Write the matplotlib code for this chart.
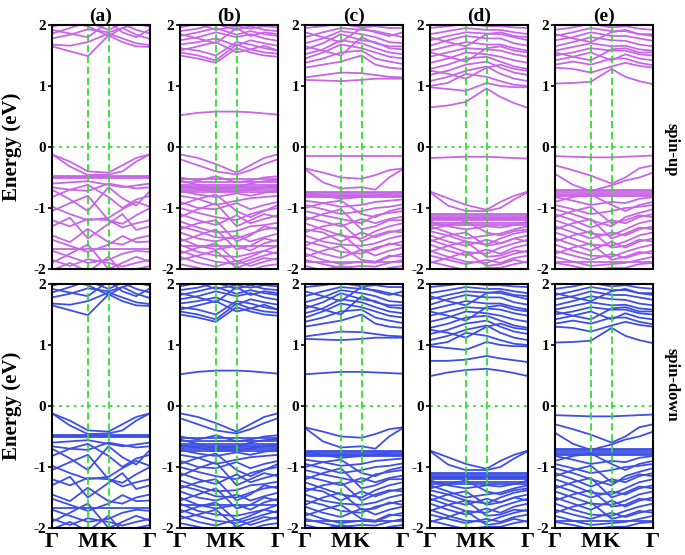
import matplotlib
matplotlib.use('Agg')
import matplotlib.pyplot as plt

plt.rcParams['font.family'] = ['Liberation Serif', 'DejaVu Serif']
plt.rcParams['font.weight'] = 'bold'

# k-path nodes: G, mid G-M, M, K, 1/3 K-G, 2/3 K-G, G
kpts = [0.0, 0.183, 0.366, 0.577, 0.718, 0.859, 1.0]
klabels = ['Γ', 'M', 'K', 'Γ']
kticks = [0.0, 0.366, 0.577, 1.0]
titles = ['(a)', '(b)', '(c)', '(d)', '(e)']

# ---- panel (a)
cb_a = [
    [1.65, 1.57, 1.49, 1.83, 1.72, 1.65, 1.64],
    [1.68, 1.66, 1.72, 1.86, 1.78, 1.70, 1.67],
    [1.78, 1.84, 1.93, 1.88, 1.95, 1.84, 1.77],
    [1.86, 1.95, 2.05, 1.92, 2.02, 1.92, 1.86],
    [1.92, 1.86, 1.80, 2.05, 1.88, 1.80, 1.93],
    [1.97, 2.05, 1.98, 1.82, 1.95, 2.02, 1.97],
]
vb_a = [
    [-0.12, -0.24, -0.40, -0.42, -0.30, -0.18, -0.12],
    [-0.12, -0.32, -0.46, -0.45, -0.40, -0.24, -0.12],
    [-0.60, -0.58, -0.56, -0.62, -0.66, -0.63, -0.60],
    [-0.66, -0.70, -0.72, -0.60, -0.64, -0.68, -0.66],
    [-0.70, -0.86, -1.05, -0.66, -0.84, -0.96, -0.72],
    [-0.82, -0.70, -0.62, -0.82, -1.00, -0.86, -0.80],
    [-0.98, -1.10, -1.20, -1.16, -1.02, -0.90, -0.98],
    [-1.05, -0.92, -0.80, -1.20, -1.26, -1.12, -1.00],
    [-1.20, -1.30, -1.18, -1.20, -1.32, -1.25, -1.20],
    [-1.30, -1.16, -1.50, -1.26, -1.10, -1.36, -1.30],
    [-1.45, -1.56, -1.34, -1.56, -1.60, -1.50, -1.45],
    [-1.52, -1.62, -1.72, -1.60, -1.46, -1.56, -1.55],
    [-1.70, -1.80, -1.90, -1.85, -1.75, -1.70, -1.72],
    [-1.85, -1.95, -1.84, -1.90, -1.96, -1.90, -1.85],
    [-1.90, -1.75, -1.60, -2.00, -1.90, -1.80, -1.88],
    [-2.02, -1.90, -2.05, -1.80, -2.05, -2.00, -1.95],
]
flat_a = [-0.47, -0.49, -0.51, -1.68]
gap_a_up = []
gap_a_dn = []

# ---- panel (b)
cb_b = [
    [1.50, 1.45, 1.38, 1.62, 1.55, 1.50, 1.48],
    [1.55, 1.50, 1.42, 1.68, 1.60, 1.55, 1.53],
    [1.62, 1.58, 1.50, 1.72, 1.68, 1.62, 1.58],
    [1.68, 1.72, 1.78, 1.66, 1.75, 1.70, 1.66],
    [1.75, 1.80, 1.88, 1.80, 1.85, 1.78, 1.74],
    [1.82, 1.88, 1.95, 1.84, 1.90, 1.85, 1.82],
    [1.90, 1.94, 2.02, 1.92, 1.98, 1.92, 1.90],
    [1.96, 2.02, 1.92, 1.98, 1.94, 1.98, 1.96],
    [1.58, 1.65, 1.72, 1.55, 1.60, 1.66, 1.58],
    [1.85, 1.78, 1.70, 1.95, 1.82, 1.88, 1.85],
]
vb_b = [
    [-0.12, -0.18, -0.28, -0.42, -0.30, -0.18, -0.12],
    [-0.20, -0.30, -0.40, -0.45, -0.38, -0.28, -0.20],
    [-0.50, -0.55, -0.48, -0.58, -0.55, -0.50, -0.48],
    [-0.55, -0.62, -0.70, -0.66, -0.60, -0.56, -0.54],
    [-0.64, -0.68, -0.74, -0.72, -0.70, -0.66, -0.62],
    [-0.72, -0.78, -0.82, -0.76, -0.80, -0.75, -0.72],
    [-0.80, -0.85, -0.95, -0.88, -0.84, -0.82, -0.80],
    [-0.90, -1.00, -1.02, -0.92, -1.02, -0.95, -0.90],
    [-1.00, -1.08, -1.15, -1.20, -1.10, -1.04, -1.00],
    [-1.10, -1.20, -1.28, -1.12, -1.25, -1.18, -1.12],
    [-1.22, -1.32, -1.40, -1.38, -1.30, -1.28, -1.24],
    [-1.30, -1.38, -1.48, -1.50, -1.42, -1.35, -1.32],
    [-1.40, -1.50, -1.55, -1.45, -1.55, -1.48, -1.42],
    [-1.50, -1.62, -1.68, -1.62, -1.70, -1.58, -1.52],
    [-1.60, -1.72, -1.78, -1.80, -1.75, -1.70, -1.62],
    [-1.70, -1.80, -1.88, -1.92, -1.85, -1.78, -1.72],
    [-1.80, -1.90, -1.96, -1.86, -1.95, -1.88, -1.82],
    [-1.92, -1.98, -2.05, -1.98, -2.02, -1.95, -1.92],
    [-0.95, -0.85, -0.78, -1.05, -1.15, -1.05, -0.95],
    [-1.15, -1.02, -0.92, -1.30, -1.20, -1.10, -1.15],
    [-1.35, -1.25, -1.20, -1.55, -1.45, -1.30, -1.35],
    [-1.55, -1.45, -1.35, -1.68, -1.62, -1.50, -1.55],
    [-1.75, -1.65, -1.58, -1.88, -1.80, -1.70, -1.75],
    [-1.85, -1.78, -1.70, -1.98, -1.90, -1.82, -1.85],
]
flat_b = [-0.52, -0.58, -0.62, -0.65, -0.68, -0.70, -0.73, -1.62]
gap_b_up = [[0.52, 0.56, 0.58, 0.58, 0.57, 0.55, 0.53]]
gap_b_dn = [[0.52, 0.56, 0.58, 0.58, 0.57, 0.55, 0.53]]

# ---- panel (c)
cb_c = [
    [1.10, 1.09, 1.08, 1.10, 1.12, 1.12, 1.12],
    [1.14, 1.18, 1.22, 1.21, 1.18, 1.15, 1.14],
    [1.30, 1.35, 1.40, 1.50, 1.35, 1.30, 1.28],
    [1.38, 1.45, 1.55, 1.58, 1.45, 1.40, 1.36],
    [1.45, 1.55, 1.68, 1.62, 1.55, 1.48, 1.45],
    [1.52, 1.60, 1.75, 1.70, 1.62, 1.55, 1.52],
    [1.60, 1.70, 1.85, 1.75, 1.72, 1.62, 1.60],
    [1.70, 1.78, 1.90, 1.85, 1.80, 1.72, 1.70],
    [1.80, 1.88, 1.95, 1.92, 1.90, 1.85, 1.80],
    [1.95, 1.98, 2.02, 1.96, 1.98, 1.95, 1.95],
    [1.65, 1.58, 1.50, 1.80, 1.70, 1.65, 1.65],
    [1.88, 1.80, 1.72, 1.95, 1.88, 1.82, 1.88],
]
vb_c = [
    [-0.35, -0.42, -0.50, -0.52, -0.46, -0.38, -0.35],
    [-0.36, -0.58, -0.68, -0.66, -0.70, -0.50, -0.36],
    [-0.74, -0.80, -0.85, -0.82, -0.80, -0.76, -0.74],
    [-0.88, -0.92, -0.98, -0.95, -0.90, -0.88, -0.86],
    [-0.95, -1.02, -1.10, -1.05, -1.00, -0.98, -0.94],
    [-1.05, -1.12, -1.18, -1.25, -1.12, -1.08, -1.05],
    [-1.15, -1.22, -1.30, -1.18, -1.25, -1.18, -1.14],
    [-1.25, -1.35, -1.45, -1.50, -1.38, -1.30, -1.25],
    [-1.35, -1.40, -1.55, -1.40, -1.48, -1.40, -1.35],
    [-1.45, -1.55, -1.60, -1.62, -1.58, -1.50, -1.45],
    [-1.55, -1.62, -1.72, -1.75, -1.65, -1.60, -1.55],
    [-1.65, -1.75, -1.82, -1.68, -1.78, -1.70, -1.65],
    [-1.75, -1.85, -1.92, -1.88, -1.90, -1.80, -1.75],
    [-1.85, -1.92, -1.98, -1.95, -1.96, -1.90, -1.85],
    [-1.95, -2.02, -1.95, -2.02, -2.05, -1.98, -1.95],
    [-1.00, -0.92, -0.88, -1.10, -1.15, -1.05, -1.00],
    [-1.20, -1.10, -1.02, -1.35, -1.30, -1.20, -1.20],
    [-1.40, -1.30, -1.25, -1.55, -1.45, -1.38, -1.40],
    [-1.62, -1.50, -1.42, -1.70, -1.68, -1.58, -1.62],
    [-1.80, -1.70, -1.62, -1.85, -1.88, -1.78, -1.80],
]
flat_c = [-0.74, -0.76, -0.78, -0.80, -0.82, -1.88]
gap_c_up = [[-0.15, -0.15, -0.15, -0.15, -0.15, -0.15, -0.15]]
gap_c_dn = [[0.52, 0.54, 0.56, 0.56, 0.55, 0.54, 0.53]]

# ---- panel (d)
cb_d = [
    [0.98, 0.95, 0.92, 1.05, 1.00, 0.98, 0.98],
    [1.00, 1.05, 1.20, 1.15, 1.08, 1.02, 1.00],
    [1.08, 1.15, 1.25, 1.32, 1.20, 1.12, 1.08],
    [1.18, 1.25, 1.35, 1.40, 1.30, 1.22, 1.18],
    [1.28, 1.35, 1.45, 1.48, 1.40, 1.32, 1.28],
    [1.38, 1.45, 1.55, 1.52, 1.48, 1.42, 1.38],
    [1.48, 1.55, 1.62, 1.60, 1.58, 1.52, 1.48],
    [1.58, 1.65, 1.72, 1.68, 1.68, 1.62, 1.58],
    [1.66, 1.75, 1.82, 1.78, 1.78, 1.70, 1.66],
    [1.75, 1.82, 1.88, 1.86, 1.85, 1.80, 1.75],
    [1.85, 1.90, 1.95, 1.92, 1.92, 1.88, 1.85],
    [1.95, 1.98, 2.02, 1.98, 1.98, 1.96, 1.95],
    [1.25, 1.20, 1.12, 1.30, 1.35, 1.28, 1.25],
    [1.55, 1.48, 1.40, 1.62, 1.65, 1.58, 1.55],
    [1.80, 1.72, 1.65, 1.85, 1.88, 1.82, 1.80],
]
vb_d = [
    [-0.73, -0.84, -0.95, -1.03, -0.90, -0.80, -0.73],
    [-0.74, -0.96, -1.05, -1.05, -1.00, -0.86, -0.74],
    [-1.22, -1.30, -1.35, -1.30, -1.32, -1.28, -1.22],
    [-1.30, -1.40, -1.50, -1.45, -1.42, -1.35, -1.30],
    [-1.38, -1.45, -1.55, -1.60, -1.50, -1.42, -1.38],
    [-1.45, -1.55, -1.62, -1.52, -1.58, -1.50, -1.45],
    [-1.52, -1.62, -1.72, -1.75, -1.65, -1.58, -1.52],
    [-1.60, -1.70, -1.78, -1.68, -1.75, -1.65, -1.60],
    [-1.70, -1.80, -1.88, -1.90, -1.82, -1.75, -1.70],
    [-1.78, -1.85, -1.92, -1.85, -1.90, -1.82, -1.78],
    [-1.88, -1.95, -2.02, -1.98, -1.98, -1.92, -1.88],
    [-1.35, -1.28, -1.22, -1.40, -1.45, -1.38, -1.35],
    [-1.55, -1.45, -1.40, -1.62, -1.58, -1.50, -1.55],
    [-1.72, -1.62, -1.55, -1.80, -1.78, -1.70, -1.72],
    [-1.90, -1.82, -1.72, -1.95, -1.92, -1.85, -1.90],
]
flat_d = [-1.10, -1.12, -1.14, -1.16, -1.18, -1.20, -1.24, -1.28]
gap_d_up = [
    [-0.18, -0.17, -0.16, -0.16, -0.17, -0.18, -0.19],
    [0.65, 0.68, 0.74, 0.96, 0.82, 0.72, 0.64],
]
gap_d_dn = [
    [0.49, 0.55, 0.59, 0.61, 0.58, 0.54, 0.49],
    [0.74, 0.74, 0.76, 0.82, 0.78, 0.75, 0.72],
]

# ---- panel (e)
cb_e = [
    [1.04, 1.05, 1.07, 1.28, 1.15, 1.08, 1.03],
    [1.30, 1.28, 1.22, 1.32, 1.38, 1.33, 1.30],
    [1.35, 1.40, 1.35, 1.45, 1.45, 1.38, 1.34],
    [1.42, 1.48, 1.55, 1.42, 1.52, 1.45, 1.42],
    [1.50, 1.55, 1.62, 1.58, 1.58, 1.52, 1.50],
    [1.58, 1.64, 1.70, 1.65, 1.66, 1.60, 1.58],
    [1.65, 1.72, 1.80, 1.75, 1.74, 1.68, 1.65],
    [1.75, 1.80, 1.88, 1.82, 1.82, 1.78, 1.74],
    [1.82, 1.88, 1.95, 1.90, 1.90, 1.85, 1.82],
    [1.92, 1.96, 2.02, 1.96, 1.98, 1.94, 1.92],
    [1.55, 1.48, 1.42, 1.60, 1.62, 1.55, 1.55],
    [1.85, 1.78, 1.72, 1.88, 1.92, 1.85, 1.85],
]
vb_e = [
    [-0.30, -0.38, -0.47, -0.60, -0.50, -0.35, -0.30],
    [-0.44, -0.62, -0.72, -0.63, -0.55, -0.50, -0.42],
    [-0.82, -0.88, -0.95, -0.90, -0.92, -0.85, -0.82],
    [-0.95, -1.02, -1.10, -1.05, -1.00, -0.98, -0.95],
    [-1.02, -1.10, -1.20, -1.30, -1.15, -1.08, -1.02],
    [-1.10, -1.20, -1.32, -1.20, -1.25, -1.15, -1.10],
    [-1.20, -1.30, -1.42, -1.45, -1.35, -1.25, -1.20],
    [-1.30, -1.40, -1.50, -1.40, -1.45, -1.35, -1.30],
    [-1.40, -1.50, -1.60, -1.62, -1.55, -1.45, -1.40],
    [-1.50, -1.60, -1.70, -1.55, -1.65, -1.55, -1.50],
    [-1.60, -1.70, -1.78, -1.80, -1.72, -1.65, -1.60],
    [-1.70, -1.78, -1.85, -1.75, -1.82, -1.75, -1.70],
    [-1.80, -1.88, -1.95, -1.92, -1.90, -1.85, -1.80],
    [-1.90, -1.95, -2.02, -1.98, -1.98, -1.92, -1.90],
    [-0.90, -0.82, -0.78, -0.95, -1.05, -0.95, -0.90],
    [-1.15, -1.05, -0.98, -1.25, -1.20, -1.12, -1.15],
    [-1.35, -1.25, -1.18, -1.50, -1.42, -1.32, -1.35],
    [-1.55, -1.45, -1.38, -1.65, -1.62, -1.52, -1.55],
    [-1.75, -1.65, -1.58, -1.85, -1.80, -1.72, -1.75],
]
flat_e = [-0.70, -0.72, -0.75, -0.78, -0.80, -1.88]
gap_e_up = [[-0.15, -0.16, -0.17, -0.17, -0.16, -0.15, -0.14]]
gap_e_dn = [[-0.15, -0.16, -0.17, -0.17, -0.16, -0.15, -0.14]]

panels = [
    (cb_a, vb_a, flat_a, gap_a_up, gap_a_dn),
    (cb_b, vb_b, flat_b, gap_b_up, gap_b_dn),
    (cb_c, vb_c, flat_c, gap_c_up, gap_c_dn),
    (cb_d, vb_d, flat_d, gap_d_up, gap_d_dn),
    (cb_e, vb_e, flat_e, gap_e_up, gap_e_dn),
]

up_color = '#C766E6'
dn_color = '#3D4FE6'
grid_color = '#33DD33'

fig = plt.figure(figsize=(6.85, 5.55), dpi=100)
W, H = 685.0, 555.0
lefts = [52, 180, 305, 430, 555]
pw = 98
rows = [(25, 269), (284, 528)]

for r, (top, bot) in enumerate(rows):
    color = up_color if r == 0 else dn_color
    for i, (cb, vb, flat, gup, gdn) in enumerate(panels):
        ax = fig.add_axes([lefts[i] / W, 1 - bot / H, pw / W, (bot - top) / H])
        gap = gup if r == 0 else gdn
        for band in cb + vb + gap:
            ax.plot(kpts, band, color=color, lw=1.3)
        for e in flat:
            ax.plot([kpts[0], kpts[-1]], [e, e], color=color, lw=1.3)
        for k in kticks[1:3]:
            ax.axvline(k, color=grid_color, lw=1.3, ls=(0, (4, 2)))
        ax.axhline(0, color=grid_color, lw=1.3, ls=(0, (1.5, 2.5)))
        ax.set_xlim(0, 1)
        ax.set_ylim(-2, 2)
        ax.set_yticks([-2, -1, 0, 1, 2])
        ax.set_yticklabels(['-2', '-1', '0', '1', '2'], fontsize=11, fontweight='bold')
        ax.tick_params(axis='y', direction='out', length=3, width=1.2, pad=1)
        ax.set_xticks(kticks)
        if r == 1:
            ax.set_xticklabels(klabels, fontsize=16, fontweight='bold')
        else:
            ax.set_xticklabels([])
            ax.set_title(titles[i], fontsize=14, fontweight='bold', pad=3)
        ax.tick_params(axis='x', length=0, pad=3)
        for s in ax.spines.values():
            s.set_linewidth(1.5)

fig.text(12 / W, 1 - 147 / H, 'Energy (eV)', rotation=90, fontsize=15,
         fontweight='bold', ha='center', va='center')
fig.text(12 / W, 1 - 406 / H, 'Energy (eV)', rotation=90, fontsize=15,
         fontweight='bold', ha='center', va='center')
fig.text(672 / W, 1 - 150 / H, 'spin-up', rotation=270, fontsize=12,
         fontweight='bold', ha='center', va='center')
fig.text(672 / W, 1 - 385 / H, 'spin-down', rotation=270, fontsize=12,
         fontweight='bold', ha='center', va='center')

fig.savefig('out.png', dpi=100)
